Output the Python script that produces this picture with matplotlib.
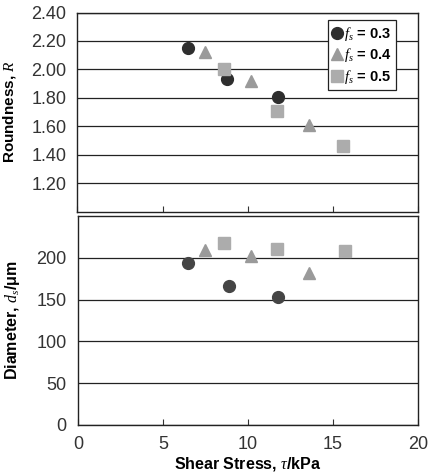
import matplotlib as mpl
import matplotlib.pyplot as plt
from matplotlib.lines import Line2D

mpl.rcParams['font.family'] = 'Liberation Sans'
mpl.rcParams['mathtext.fontset'] = 'custom'
mpl.rcParams['mathtext.rm'] = 'Liberation Sans:bold'
mpl.rcParams['mathtext.it'] = 'Liberation Serif:italic'
mpl.rcParams['font.size'] = 13

# roundness data, f_s = 0.3 / 0.4 / 0.5
tau_03 = [6.5, 8.8, 11.8]
R_03 = [2.15, 1.93, 1.81]
tau_04 = [7.5, 10.2, 13.6]
R_04 = [2.12, 1.92, 1.61]
tau_05 = [8.6, 11.7, 15.6]
R_05 = [2.00, 1.71, 1.46]

# diameter data
dtau_03 = [6.5, 8.9, 11.8]
d_03 = [194, 166, 153]
dtau_04 = [7.5, 10.2, 13.6]
d_04 = [209, 202, 182]
dtau_05 = [8.6, 11.7, 15.7]
d_05 = [218, 211, 208]

fs_labels = ['0.3', '0.4', '0.5']
r_ticks = [1.2, 1.4, 1.6, 1.8, 2.0, 2.2, 2.4]
d_ticks = [0, 50, 100, 150, 200]
x_ticks = [0, 5, 10, 15, 20]

c03 = '#2e2e2e'
c03b = '#454545'
c04 = '#9a9a9a'
c05 = '#acacac'

fig = plt.figure(figsize=(4.28, 4.74), dpi=100)
axA = fig.add_axes([0.181, 0.553, 0.795, 0.4206])
axB = fig.add_axes([0.182, 0.1034, 0.794, 0.441])

ms = 8.5
kw = dict(linestyle='none', zorder=3)

axA.plot(tau_03, R_03, marker='o', ms=ms, color=c03, **kw)
axA.plot(tau_04, R_04, marker='^', ms=ms + 0.5, color=c04, **kw)
axA.plot(tau_05, R_05, marker='s', ms=ms - 0.5, color=c05, **kw)

axB.plot(dtau_03, d_03, marker='o', ms=ms, color=c03b, **kw)
axB.plot(dtau_04, d_04, marker='^', ms=ms + 0.5, color=c04, **kw)
axB.plot(dtau_05, d_05, marker='s', ms=ms - 0.5, color=c05, **kw)

for ax in (axA, axB):
    ax.set_xlim(0, 20)
    ax.set_xticks(x_ticks)
    ax.yaxis.grid(True, color='#222222', linewidth=0.9)
    ax.set_axisbelow(True)
    ax.tick_params(axis='y', length=0, pad=8, labelsize=13, colors='#333333')
    ax.tick_params(axis='x', direction='in', length=4, width=0.8, pad=8, labelsize=13, colors='#333333')
    for s in ax.spines.values():
        s.set_linewidth(1.0)
        s.set_color('#222222')

axA.set_ylim(1.0, 2.4)
axA.set_yticks(r_ticks)
axA.set_yticklabels(['%.2f' % v for v in r_ticks])
axA.tick_params(axis='x', labelbottom=False)
axA.set_ylabel(r'Roundness, $R$', fontweight='bold', fontsize=11)
axA.yaxis.set_label_coords(-0.175, 0.5)

axB.set_ylim(0, 250)
axB.set_yticks(d_ticks)
axB.set_ylabel(r'Diameter, $d_s$/μm', fontweight='bold', fontsize=11.5)
axB.yaxis.set_label_coords(-0.165, 0.5)
axB.set_xlabel(r'Shear Stress, $\tau$/kPa', fontweight='bold', fontsize=11.5)
axB.xaxis.set_label_coords(0.5, -0.145)

handles = [
    Line2D([], [], marker='o', ms=ms, color=c03, linestyle='none'),
    Line2D([], [], marker='^', ms=ms + 0.5, color=c04, linestyle='none'),
    Line2D([], [], marker='s', ms=ms - 0.5, color=c05, linestyle='none'),
]
labels = [r'$f_s$ = ' + v for v in fs_labels]
lg = axA.legend(handles, labels, loc='upper right', bbox_to_anchor=(0.945, 0.975),
                fancybox=False, framealpha=1, edgecolor='#222222',
                handlelength=0.6, handletextpad=0.2, borderpad=0.3,
                labelspacing=0.25, borderaxespad=0.2,
                prop={'weight': 'bold', 'size': 10.5})
lg.get_frame().set_linewidth(0.9)

fig.savefig('out.png', dpi=100)
